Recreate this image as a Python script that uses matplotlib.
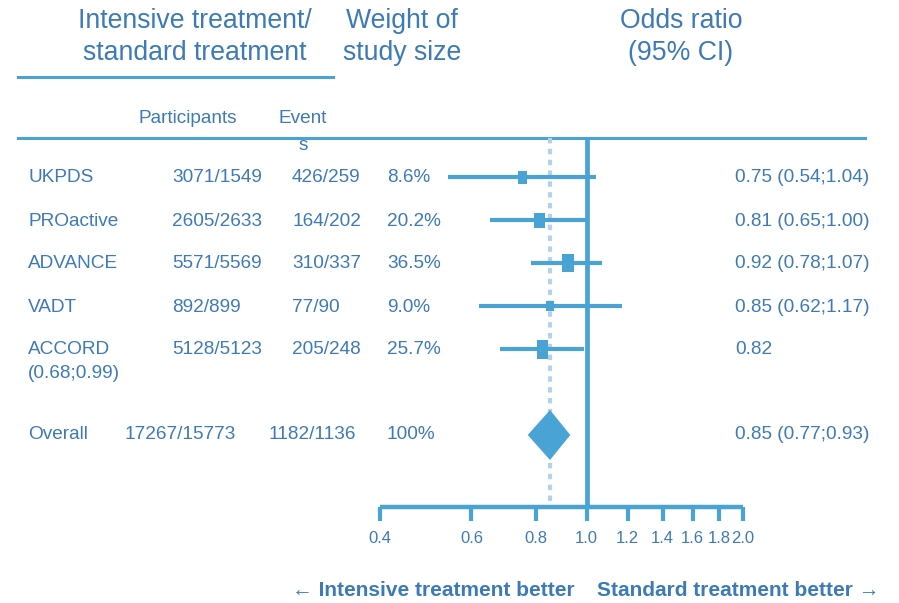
import matplotlib
matplotlib.use("Agg")
import matplotlib.pyplot as plt
from matplotlib.lines import Line2D
from matplotlib.transforms import blended_transform_factory

plt.rcParams['font.family'] = ['Liberation Sans', 'DejaVu Sans']

# ---- data -------------------------------------------------------------
studies = ["UKPDS", "PROactive", "ADVANCE", "VADT", "ACCORD\n(0.68;0.99)"]
participants = ["3071/1549", "2605/2633", "5571/5569", "892/899", "5128/5123"]
events = ["426/259", "164/202", "310/337", "77/90", "205/248"]
weights = ["8.6%", "20.2%", "36.5%", "9.0%", "25.7%"]
odds = [0.75, 0.81, 0.92, 0.85, 0.82]
ci_low = [0.54, 0.65, 0.78, 0.62, 0.68]
ci_high = [1.04, 1.00, 1.07, 1.17, 0.99]
or_labels = ["0.75 (0.54;1.04)", "0.81 (0.65;1.00)", "0.92 (0.78;1.07)",
             "0.85 (0.62;1.17)", "0.82"]

overall_label = "Overall"
overall_participants = "17267/15773"
overall_events = "1182/1136"
overall_weight = "100%"
overall_or = 0.85
overall_low = 0.77
overall_high = 0.93
overall_or_label = "0.85 (0.77;0.93)"

xticks = [0.4, 0.6, 0.8, 1.0, 1.2, 1.4, 1.6, 1.8, 2.0]
xtick_labels = ["0.4", "0.6", "0.8", "1.0", "1.2", "1.4", "1.6", "1.8", "2.0"]

# ---- styling ----------------------------------------------------------
LINE = "#4aa3d5"
DOT = "#b4d2ec"
TEXT = "#3d7ab8"
W, H = 899, 603
box_w = [9, 11, 12, 9, 11]     # square widths (px)
box_h = [13, 15, 18, 10, 19]   # square heights (px)

fig = plt.figure(figsize=(W / 100, H / 100), dpi=100)


def fx(px):
    return px / W


def fy(py):
    return 1 - py / H


# forest-plot axes: x spans 0.4..2.0 on a log scale
ax_left, ax_right, ax_top, ax_bot = 380, 743, 138, 507
ax = fig.add_axes([fx(ax_left), fy(ax_bot), fx(ax_right - ax_left),
                   (ax_bot - ax_top) / H])
ax.set_xscale("log")
ax.set_xlim(0.4, 2.0)
row_gap = 43.0
ax.set_ylim((ax_bot - 177) / row_gap, (ax_top - 177) / row_gap)
ax.patch.set_alpha(0)
for s in ["top", "left", "right"]:
    ax.spines[s].set_visible(False)
ax.spines["bottom"].set_color(LINE)
ax.spines["bottom"].set_linewidth(3.2)
ax.spines["bottom"].set_capstyle("butt")
ax.set_yticks([])
ax.set_xticks(xticks)
ax.set_xticklabels(xtick_labels)
ax.xaxis.set_minor_locator(matplotlib.ticker.NullLocator())
ax.tick_params(axis="x", direction="out", length=10, width=3.0, color=LINE,
               labelcolor=TEXT, labelsize=12, pad=7.5)

rows = list(range(len(studies)))
overall_row = 6

# reference lines
ax.axvline(1.0, color=LINE, lw=3.4, zorder=2)
ax.plot([overall_or, overall_or], [ax.get_ylim()[1], ax.get_ylim()[0]],
        color=DOT, lw=3.0, linestyle=(0, (1.3, 1.3)), zorder=1, clip_on=False)

# confidence intervals and study squares
for i in rows:
    ax.plot([ci_low[i], ci_high[i]], [i, i], color=LINE, lw=3.0,
            solid_capstyle="butt", zorder=3)
    a = box_w[i] / box_h[i]
    verts = [(-a, -1), (a, -1), (a, 1), (-a, 1), (-a, -1)]
    ax.plot([odds[i]], [i], marker=verts, markersize=box_h[i] * 0.72,
            color=LINE, markeredgewidth=0, linestyle="none", zorder=4)

# pooled estimate diamond
dh = 25 / row_gap
ax.fill([overall_low, overall_or, overall_high, overall_or],
        [overall_row, overall_row - dh, overall_row, overall_row + dh],
        color=LINE, lw=0, zorder=4)

# ---- table text -------------------------------------------------------
tr = blended_transform_factory(fig.transFigure, ax.transData)
fs = 13.7


def row_text(xpx, y, s, **kw):
    fig.text(fx(xpx), y, s, transform=tr, color=TEXT, fontsize=fs,
             va="center", ha="left", **kw)


for i in rows:
    label = studies[i].split("\n")
    row_text(28, i + 1 / row_gap, label[0])
    if len(label) > 1:
        row_text(28, i + 24 / row_gap, label[1])
    row_text(172, i + 1 / row_gap, participants[i])
    row_text(292, i + 1 / row_gap, events[i])
    row_text(387, i + 1 / row_gap, weights[i])
    row_text(735, i + 1 / row_gap, or_labels[i])

row_text(28, overall_row, overall_label)
row_text(125, overall_row, overall_participants)
row_text(269, overall_row, overall_events)
row_text(387, overall_row, overall_weight)
row_text(735, overall_row, overall_or_label)

# ---- headers ----------------------------------------------------------
hfs = 19.2
for xc, s in [(195, "Intensive treatment/\nstandard treatment"),
              (402, "Weight of\nstudy size"),
              (681, "Odds ratio\n(95% CI)")]:
    fig.text(fx(xc), fy(37), s, color=TEXT, fontsize=hfs, ha="center",
             va="center", linespacing=1.32)
fig.add_artist(Line2D([fx(18), fx(333)], [fy(77), fy(77)], color=LINE,
                      lw=2.2, transform=fig.transFigure))

fig.text(fx(139), fy(123), "Participants", color=TEXT, fontsize=fs,
         ha="left", va="baseline")
fig.text(fx(303), fy(123), "Event", color=TEXT, fontsize=fs,
         ha="center", va="baseline")
fig.text(fx(303), fy(150), "s", color=TEXT, fontsize=fs,
         ha="center", va="baseline")
fig.add_artist(Line2D([fx(18), fx(865)], [fy(138), fy(138)], color=LINE,
                      lw=2.2, transform=fig.transFigure, zorder=0))

# ---- direction labels -------------------------------------------------
bfs = 15
fig.text(fx(575), fy(591), "\u2190 Intensive treatment better", color=TEXT,
         fontsize=bfs, fontweight="bold", ha="right", va="center")
fig.text(fx(597), fy(591), "Standard treatment better \u2192", color=TEXT,
         fontsize=bfs, fontweight="bold", ha="left", va="center")

fig.savefig("out.png", dpi=100)
